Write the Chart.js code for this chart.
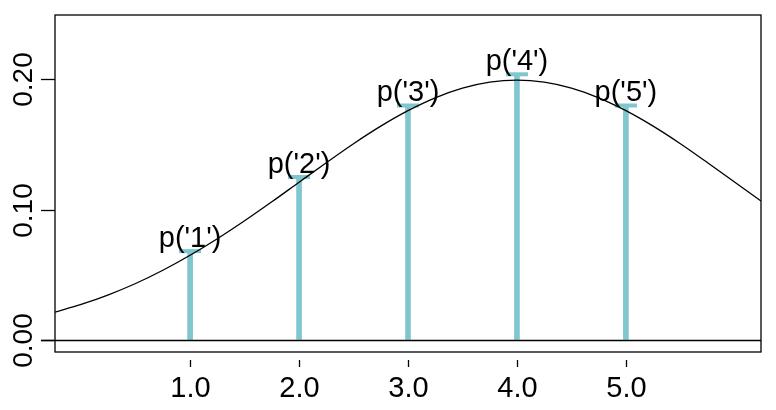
<!DOCTYPE html>
<html>
<head>
<meta charset="utf-8">
<script src="https://cdn.jsdelivr.net/npm/chart.js@4.4.1/dist/chart.umd.min.js"></script>
<style>
  html, body { margin: 0; padding: 0; background: #ffffff; }
  #wrap { width: 776px; height: 410px; }
</style>
</head>
<body>
<div id="wrap"><canvas id="c" width="776" height="410"></canvas></div>
<script>
// ---- data ----
const categories = [1, 2, 3, 4, 5];
const probs = [0.068, 0.125, 0.180, 0.204, 0.180];
const barLabels = ["p('1')", "p('2')", "p('3')", "p('4')", "p('5')"];

const curveX = [-0.24, 0, 0.25, 0.5, 0.75, 1, 1.25, 1.5, 1.75, 2, 2.25, 2.5, 2.75, 3, 3.25, 3.5, 3.75, 4,
                4.25, 4.5, 4.75, 5, 5.25, 5.5, 5.75, 6, 6.24];
const curveY = [0.0211, 0.0270, 0.0344, 0.0431, 0.0533, 0.0648, 0.0775, 0.0913, 0.1059, 0.1210, 0.1360,
                0.1506, 0.1641, 0.1760, 0.1859, 0.1933, 0.1979, 0.1995, 0.1979, 0.1933, 0.1859, 0.1760,
                0.1641, 0.1506, 0.1360, 0.1210, 0.1065];

const xTicks = [1, 2, 3, 4, 5];
const xTickLabels = ['1.0', '2.0', '3.0', '4.0', '5.0'];
const yTicks = [0, 0.1, 0.2];
const yTickLabels = ['0.00', '0.10', '0.20'];

// ---- styling ----
const TEAL = '#80c6cf';
const FONT = '"Liberation Sans", Arial, Helvetica, sans-serif';

const barData = categories.map((c, i) => ({ x: c, y: probs[i] }));
const curveData = curveX.map((x, i) => ({ x: x, y: curveY[i] }));

const rPlot = {
  id: 'rPlot',
  beforeDraw(chart) {
    const ctx = chart.ctx;
    ctx.save();
    ctx.fillStyle = '#ffffff';
    ctx.fillRect(0, 0, chart.width, chart.height);
    ctx.restore();
  },
  afterDatasetsDraw(chart) {
    const ctx = chart.ctx;
    const xs = chart.scales.x, ys = chart.scales.y;
    ctx.save();
    ctx.fillStyle = '#000';
    ctx.font = '29px ' + FONT;
    ctx.textAlign = 'center';
    ctx.textBaseline = 'alphabetic';
    categories.forEach((c, i) => {
      const px = xs.getPixelForValue(c);
      const py = ys.getPixelForValue(probs[i]);
      ctx.fillText(barLabels[i], px, py - 4);
    });
    ctx.restore();
  },
  afterDraw(chart) {
    const ctx = chart.ctx;
    const xs = chart.scales.x, ys = chart.scales.y;
    const a = chart.chartArea;
    ctx.save();
    ctx.strokeStyle = '#000';
    ctx.lineWidth = 1.3;
    ctx.strokeRect(a.left, a.top, a.right - a.left, a.bottom - a.top);
    const y0 = Math.round(ys.getPixelForValue(0)) + 0.5;
    ctx.beginPath();
    ctx.moveTo(a.left - 14, y0);
    ctx.lineTo(a.right, y0);
    ctx.stroke();
    ctx.fillStyle = '#000';
    ctx.font = '29px ' + FONT;
    ctx.textAlign = 'center';
    ctx.textBaseline = 'alphabetic';
    xTicks.forEach((v, i) => {
      const px = Math.round(xs.getPixelForValue(v)) + 0.5;
      ctx.beginPath();
      ctx.moveTo(px, a.bottom + 8);
      ctx.lineTo(px, a.bottom + 15);
      ctx.stroke();
      ctx.fillText(xTickLabels[i], px, a.bottom + 45);
    });
    ctx.font = '28px ' + FONT;
    yTicks.forEach((v, i) => {
      const py = Math.round(ys.getPixelForValue(v)) + 0.5;
      ctx.beginPath();
      ctx.moveTo(a.left - 14, py);
      ctx.lineTo(a.left, py);
      ctx.stroke();
      ctx.save();
      ctx.translate(a.left - 23, py);
      ctx.rotate(-Math.PI / 2);
      ctx.textAlign = 'center';
      ctx.fillText(yTickLabels[i], 0, 0);
      ctx.restore();
    });
    ctx.restore();
  }
};

new Chart(document.getElementById('c'), {
  data: {
    datasets: [
      {
        type: 'line',
        label: 'density',
        data: curveData,
        borderColor: '#000',
        borderWidth: 1.3,
        pointRadius: 0,
        cubicInterpolationMode: 'monotone',
        fill: false,
        order: 0
      },
      {
        type: 'line',
        label: 'caps',
        data: barData,
        showLine: false,
        pointStyle: 'line',
        pointRadius: 11,
        pointBorderWidth: 4,
        pointBorderColor: TEAL,
        pointBackgroundColor: TEAL,
        borderColor: TEAL,
        order: 1
      },
      {
        type: 'bar',
        label: 'p',
        data: barData,
        backgroundColor: TEAL,
        borderWidth: 0,
        barThickness: 5,
        order: 2
      }
    ]
  },
  options: {
    responsive: false,
    animation: false,
    devicePixelRatio: 1,
    layout: { padding: { left: 55, top: 14, right: 15, bottom: 58 } },
    plugins: { legend: { display: false }, tooltip: { enabled: false }, title: { display: false } },
    scales: {
      x: { type: 'linear', min: -0.24, max: 6.24, offset: false, display: false },
      y: { type: 'linear', min: -0.0096, max: 0.2496, display: false }
    }
  },
  plugins: [rPlot]
});
</script>
</body>
</html>
